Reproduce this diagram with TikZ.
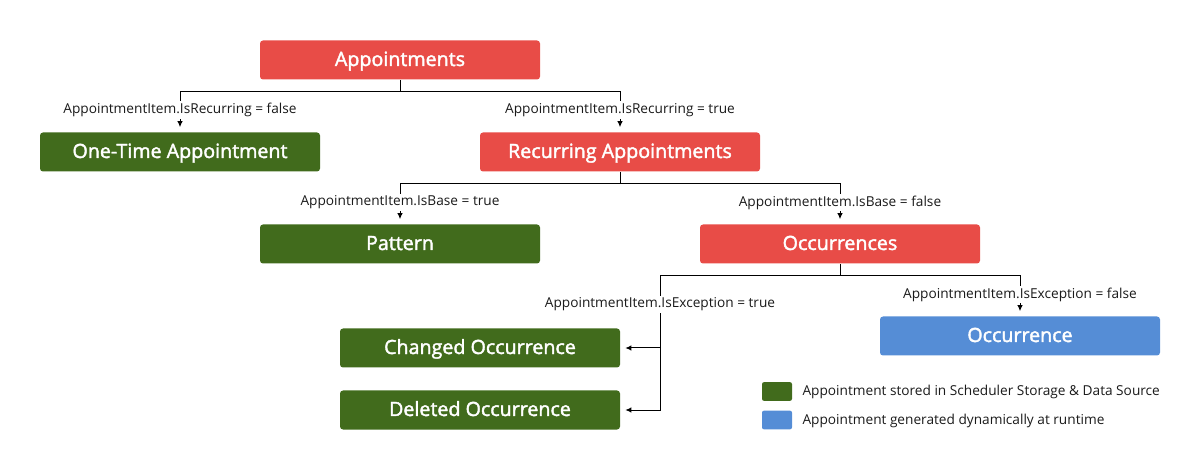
\documentclass[tikz,border=0pt]{standalone}
\usepackage{fontspec}
\setmainfont{Open Sans}
\newfontfamily\titlefont{Open Sans}[FakeBold=2]
\usetikzlibrary{arrows.meta,positioning}

\definecolor{apred}{HTML}{E84C47}
\definecolor{apgreen}{HTML}{416B1C}
\definecolor{apblue}{HTML}{558DD6}
\definecolor{aptext}{HTML}{1A1A1A}

\tikzset{
  box/.style={rectangle,rounded corners=2.25pt,minimum width=210pt,minimum height=29.25pt,
    inner sep=0pt,text height=10.5pt,text depth=1.5pt,text=white,font=\titlefont\fontsize{14.75}{17}\selectfont},
  redbox/.style={box,fill=apred},
  greenbox/.style={box,fill=apgreen},
  bluebox/.style={box,fill=apblue},
  cond/.style={fill=white,inner sep=1.5pt,text=aptext,font=\fontsize{10.25}{12}\selectfont},
  link/.style={draw=black,line width=0.75pt,-{Latex[length=4.5pt,width=4pt]},shorten >=3.75pt},
  swatch/.style={rectangle,rounded corners=1.5pt,minimum width=22.5pt,minimum height=14pt,inner sep=0pt},
  legtext/.style={inner sep=1.5pt,text height=7.5pt,text depth=1pt,text=aptext,font=\fontsize{10.25}{12}\selectfont},
}

\begin{document}
\begin{tikzpicture}[x=0.75pt,y=-0.75pt]
  \useasboundingbox (0,0) rectangle (1200,470);

  \path
    (400,60) node[redbox](appts){Appointments}
    (180,152) node[greenbox](onetime){One-Time Appointment}
    (620,152) node[redbox](recur){Recurring Appointments}
    (400,244) node[greenbox](pattern){Pattern}
    (840,244) node[redbox](occs){Occurrences}
    (1020,336) node[bluebox](occ){Occurrence}
    (480,348) node[greenbox](changed){Changed Occurrence}
    (480,410) node[greenbox](deleted){Deleted Occurrence};

  % tree connectors
  \coordinate (j1) at (400,92);
  \coordinate (j2) at (620,184);
  \coordinate (j3) at (840,276);
  \coordinate (exc) at (660,276);

  \draw[line width=0.75pt] (appts.south) -- (j1);
  \draw[link] (j1) -| (onetime.north);
  \draw[link] (j1) -| (recur.north);

  \draw[line width=0.75pt] (recur.south) -- (j2);
  \draw[link] (j2) -| (pattern.north);
  \draw[link] (j2) -| (occs.north);

  \draw[line width=0.75pt] (occs.south) -- (j3);
  \draw[link] (exc) -| (occ.north);
  \draw[link] (exc) |- (deleted.east);
  \draw[link] (exc |- changed.east) -- (changed.east);

  % conditions
  \path
    (180,110) node[cond](c1){AppointmentItem.IsRecurring = false}
    (620,110) node[cond](c2){AppointmentItem.IsRecurring = true}
    (400,202.5) node[cond](c3){AppointmentItem.IsBase = true}
    (840,202.5) node[cond](c4){AppointmentItem.IsBase = false}
    (660,304.5) node[cond](c5){AppointmentItem.IsException = true}
    (1020,294.5) node[cond](c6){AppointmentItem.IsException = false};

  % legend
  \node[swatch,fill=apgreen] (lgreen) at (777,391.5) {};
  \node[swatch,fill=apblue] (lblue) at (777,420) {};
  \node[legtext,right=6pt of lgreen] (tgreen) {Appointment stored in Scheduler Storage \& Data Source};
  \node[legtext,right=6pt of lblue] (tblue) {Appointment generated dynamically at runtime};
\end{tikzpicture}
\end{document}
